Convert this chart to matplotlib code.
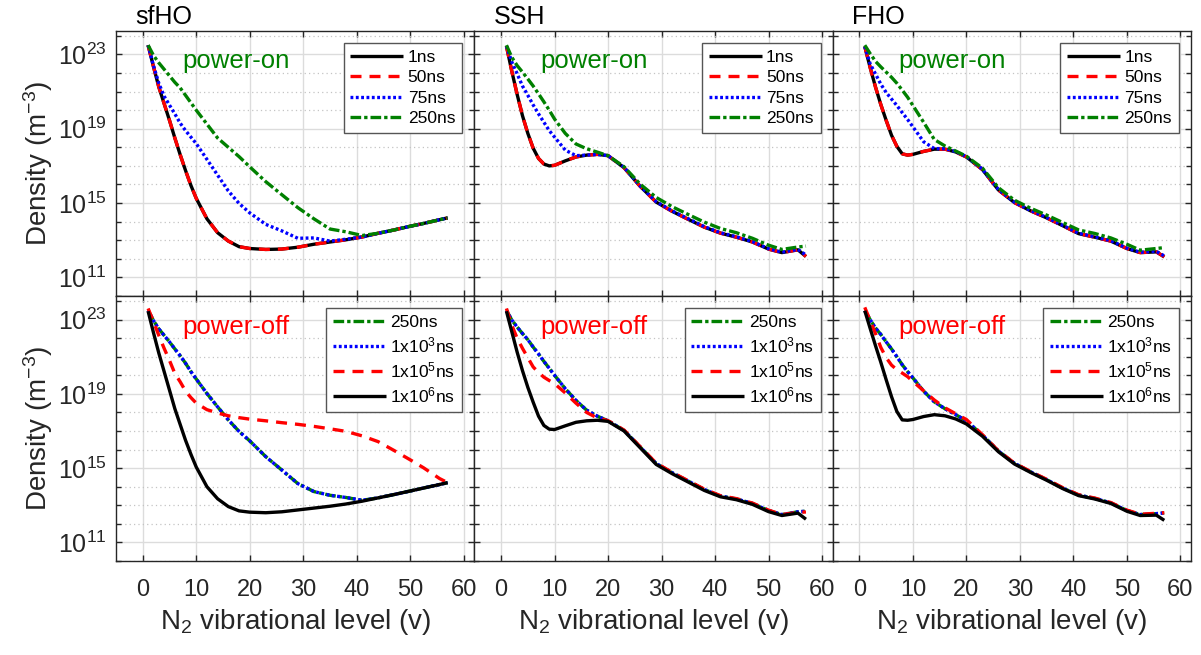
import numpy as np
import matplotlib
matplotlib.use('Agg')
import matplotlib.pyplot as plt
from matplotlib.ticker import FixedLocator, NullLocator, NullFormatter

plt.rcParams['font.family'] = ['Liberation Sans', 'DejaVu Sans']
plt.rcParams['mathtext.fontset'] = 'custom'
plt.rcParams['mathtext.rm'] = 'Liberation Sans'
plt.rcParams['mathtext.it'] = 'Liberation Sans:italic'
plt.rcParams['mathtext.bf'] = 'Liberation Sans:bold'
plt.rcParams['mathtext.default'] = 'regular'

v = [1, 2, 3, 4, 5, 6, 7, 8, 9, 10, 12, 14, 16, 18, 20, 23, 26, 29, 32, 35,
     38, 41, 44, 47, 50, 52.5, 55.5, 57]

# log10 of density (m^-3)
# sfHO, power-on
sfho_on_1ns = [23.5, 22.35, 21.25, 20.35, 19.45, 18.5, 17.6, 16.75, 15.95, 15.25, 14.15, 13.4, 12.95, 12.65,
               12.55, 12.5, 12.52, 12.62, 12.78, 12.9, 13.02, 13.17, 13.37, 13.55, 13.75, 13.9, 14.1, 14.2]
sfho_on_50ns = sfho_on_1ns  # lies on top of 1ns
sfho_on_75ns = [23.5, 22.4, 21.45, 20.75, 20.27, 19.8, 19.3, 18.9, 18.55, 18.2, 17.35, 16.5, 15.65, 14.98,
                14.47, 13.85, 13.5, 13.1, 13.12, 12.95, 13.05, 13.17, 13.37, 13.55, 13.75, 13.9, 14.1, 14.2]
sfho_on_250ns = [23.5, 22.95, 22.55, 22.2, 21.85, 21.5, 21.2, 20.8, 20.4, 20.0, 19.25, 18.5, 18.0, 17.5,
                 16.95, 16.15, 15.45, 14.75, 14.15, 13.6, 13.45, 13.25, 13.37, 13.55, 13.75, 13.9, 14.1, 14.2]
# sfHO, power-off
sfho_off_250ns = [23.5, 22.95, 22.5, 22.15, 21.8, 21.42, 21.05, 20.65, 20.2, 19.8, 19.02, 18.3, 17.6, 16.98,
                  16.47, 15.62, 14.9, 14.17, 13.74, 13.54, 13.42, 13.27, 13.4, 13.58, 13.77, 13.93, 14.12, 14.22]
sfho_off_1e3ns = sfho_off_250ns
sfho_off_1e5ns = [23.6, 22.9, 22.15, 21.45, 20.8, 20.1, 19.65, 19.15, 18.8, 18.5, 18.15, 17.97, 17.82, 17.72,
                  17.64, 17.55, 17.45, 17.36, 17.25, 17.12, 16.98, 16.74, 16.43, 15.95, 15.45, 15.02, 14.44, 14.22]
sfho_off_1e6ns = [23.45, 22.3, 21.2, 20.2, 19.2, 18.2, 17.35, 16.5, 15.75, 15.06, 14.0, 13.35, 12.93, 12.7,
                  12.63, 12.6, 12.65, 12.75, 12.85, 12.95, 13.07, 13.22, 13.4, 13.58, 13.77, 13.93, 14.12, 14.22]

# SSH, power-on
ssh_on_1ns = [23.45, 22.1, 20.85, 19.7, 18.75, 17.95, 17.4, 17.1, 17.0, 17.03, 17.27, 17.48, 17.58, 17.62,
              17.55, 16.9, 15.9, 15.05, 14.55, 14.12, 13.7, 13.38, 13.16, 12.9, 12.52, 12.33, 12.48, 12.12]
ssh_on_50ns = ssh_on_1ns
ssh_on_75ns = [23.45, 22.6, 21.96, 21.3, 20.8, 20.28, 19.8, 19.35, 18.9, 18.55, 17.85, 17.55, 17.58, 17.62,
               17.55, 16.92, 15.92, 15.07, 14.57, 14.15, 13.73, 13.4, 13.18, 12.92, 12.54, 12.35, 12.5, 12.2]
ssh_on_250ns = [23.5, 22.85, 22.4, 22.05, 21.68, 21.3, 20.88, 20.45, 20.0, 19.52, 18.75, 18.18, 17.92, 17.74,
                17.55, 16.95, 16.02, 15.3, 14.8, 14.38, 13.97, 13.63, 13.4, 13.1, 12.73, 12.5, 12.63, 12.68]
# SSH, power-off
ssh_off_250ns = [23.5, 22.98, 22.6, 22.25, 21.92, 21.52, 21.15, 20.75, 20.38, 20.0, 19.28, 18.65, 18.12, 17.8,
                 17.55, 17.03, 16.14, 15.25, 14.75, 14.3, 13.85, 13.5, 13.34, 13.1, 12.72, 12.5, 12.65, 12.68]
ssh_off_1e3ns = ssh_off_250ns
ssh_off_1e5ns = [23.6, 22.7, 22.0, 21.45, 20.95, 20.45, 20.15, 19.9, 19.72, 19.55, 19.05, 18.5, 18.0, 17.7,
                 17.56, 17.05, 16.16, 15.27, 14.77, 14.32, 13.87, 13.52, 13.36, 13.12, 12.74, 12.5, 12.62, 12.64]
ssh_off_1e6ns = [23.45, 22.35, 21.25, 20.25, 19.35, 18.55, 17.8, 17.3, 17.1, 17.08, 17.28, 17.47, 17.55, 17.58,
                 17.52, 17.0, 16.1, 15.2, 14.7, 14.25, 13.8, 13.46, 13.3, 13.05, 12.66, 12.45, 12.58, 12.25]

# FHO, power-on
fho_on_1ns = [23.43, 22.3, 21.25, 20.3, 19.45, 18.65, 18.05, 17.65, 17.58, 17.62, 17.78, 17.9, 17.9, 17.75,
              17.48, 16.8, 15.7, 15.02, 14.58, 14.2, 13.78, 13.35, 13.16, 12.95, 12.55, 12.33, 12.37, 12.1]
fho_on_50ns = fho_on_1ns
fho_on_75ns = [23.43, 22.5, 21.95, 21.4, 20.95, 20.6, 20.25, 19.87, 19.5, 19.1, 18.3, 17.93, 17.93, 17.77,
               17.5, 16.82, 15.72, 15.04, 14.6, 14.22, 13.8, 13.37, 13.18, 12.97, 12.57, 12.35, 12.4, 12.15]
fho_on_250ns = [23.5, 23.05, 22.63, 22.33, 22.05, 21.77, 21.45, 21.08, 20.7, 20.25, 19.35, 18.42, 18.07, 17.8,
                17.52, 16.88, 15.82, 15.15, 14.72, 14.35, 13.95, 13.55, 13.36, 13.12, 12.78, 12.46, 12.55, 12.6]
# FHO, power-off
fho_off_250ns = [23.48, 23.0, 22.55, 22.2, 21.8, 21.42, 21.0, 20.57, 20.2, 19.86, 19.15, 18.57, 18.2, 17.88,
                 17.55, 16.78, 15.92, 15.26, 14.8, 14.38, 13.93, 13.55, 13.37, 13.13, 12.72, 12.5, 12.55, 12.59]
fho_off_1e3ns = fho_off_250ns
fho_off_1e5ns = [23.66, 22.95, 22.25, 21.5, 20.95, 20.55, 20.3, 20.12, 19.93, 19.67, 19.17, 18.67, 18.25, 17.93,
                 17.62, 16.8, 15.93, 15.27, 14.82, 14.4, 13.95, 13.57, 13.39, 13.15, 12.74, 12.52, 12.57, 12.6]
fho_off_1e6ns = [23.48, 22.53, 21.6, 20.7, 19.76, 18.85, 18.05, 17.6, 17.58, 17.62, 17.78, 17.88, 17.82, 17.65,
                 17.38, 16.72, 15.88, 15.22, 14.77, 14.35, 13.9, 13.52, 13.34, 13.1, 12.68, 12.45, 12.47, 12.19]

models = ['sfHO', 'SSH', 'FHO']
on_labels = ['1ns', '50ns', '75ns', '250ns']
off_labels = ['250ns', r'1x10$^{3}$ns', r'1x10$^{5}$ns', r'1x10$^{6}$ns']
on_data = [[sfho_on_1ns, sfho_on_50ns, sfho_on_75ns, sfho_on_250ns],
           [ssh_on_1ns, ssh_on_50ns, ssh_on_75ns, ssh_on_250ns],
           [fho_on_1ns, fho_on_50ns, fho_on_75ns, fho_on_250ns]]
off_data = [[sfho_off_250ns, sfho_off_1e3ns, sfho_off_1e5ns, sfho_off_1e6ns],
            [ssh_off_250ns, ssh_off_1e3ns, ssh_off_1e5ns, ssh_off_1e6ns],
            [fho_off_250ns, fho_off_1e3ns, fho_off_1e5ns, fho_off_1e6ns]]

lw = 2.4
sty = {'k': dict(color='black', ls='-'),
       'r': dict(color='#ff0000', dashes=(3.3, 2.4)),
       'b': dict(color='#0000ff', dashes=(0.85, 0.75)),
       'g': dict(color='#008000', dashes=(3.2, 0.9, 1.0, 0.9))}
on_sty = ['k', 'r', 'b', 'g']
off_sty = ['g', 'b', 'r', 'k']

dark = '#262626'
fig, axes = plt.subplots(2, 3, figsize=(12.01, 6.55), dpi=100, sharex=True, sharey=True)
fig.subplots_adjust(left=0.0966, right=0.9917, top=0.9531, bottom=0.1435, wspace=0, hspace=0)

x = np.array(v)
for j in range(3):
    for i, (data, labels, styles) in enumerate([(on_data[j], on_labels, on_sty),
                                                (off_data[j], off_labels, off_sty)]):
        ax = axes[i, j]
        for y, lab, s in zip(data, labels, styles):
            ax.plot(x, 10.0 ** np.array(y), lw=lw, label=lab, solid_capstyle='butt',
                    dash_capstyle='butt', solid_joinstyle='round', **sty[s])
        ax.set_yscale('log')
        ax.set_xlim(-5, 62)
        ax.set_ylim(1e10, 1.9e24)
        ax.set_xticks([0, 10, 20, 30, 40, 50, 60])
        ax.xaxis.set_minor_locator(NullLocator())
        ax.yaxis.set_major_locator(FixedLocator([1e11, 1e15, 1e19, 1e23]))
        ax.yaxis.set_minor_locator(FixedLocator([10.0 ** k for k in range(10, 25) if k not in (11, 15, 19, 23)]))
        ax.yaxis.set_minor_formatter(NullFormatter())
        ax.set_yticklabels([r'$10^{11}$', r'$10^{15}$', r'$10^{19}$', r'$10^{23}$'])
        ax.grid(True, which='major', color='#dcdcdc', lw=1.0, ls='-')
        ax.yaxis.grid(True, which='minor', color='#c4c4c4', lw=0.9, ls=(0, (1, 2.5)))
        ax.set_axisbelow(True)
        ax.tick_params(which='both', direction='in', top=True, right=True, color=dark,
                       labelcolor=dark)
        ax.tick_params(which='major', length=4.5, width=1)
        ax.tick_params(which='minor', length=3.5, width=1)
        ax.tick_params(axis='x', labelsize=17, pad=13)
        ax.tick_params(axis='y', labelsize=18, pad=7)
        for sp in ax.spines.values():
            sp.set_color(dark)
            sp.set_linewidth(1.0)
        leg = ax.legend(loc='upper right', fontsize=12.5, handlelength=3.05, handletextpad=0.25,
                        borderpad=0.4, labelspacing=0.3, borderaxespad=0.7, fancybox=False,
                        framealpha=1, edgecolor='#555555')
        leg.get_frame().set_linewidth(1.0)
        if i == 0:
            ax.text(0.334, 0.887, 'power-on', color='#008000', fontsize=18.5,
                    ha='center', va='center', transform=ax.transAxes)
            ax.text(0.053, 1.006, models[j], color='black', fontsize=18,
                    ha='left', va='bottom', transform=ax.transAxes)
        else:
            ax.text(0.334, 0.884, 'power-off', color='#ff0000', fontsize=18.5,
                    ha='center', va='center', transform=ax.transAxes)
            ax.set_xlabel(r'N$_2$ vibrational level (v)', fontsize=20, color=dark, labelpad=4)
        if j == 0:
            ax.set_ylabel(r'Density (m$^{-3}$)', fontsize=20, color=dark, labelpad=2)

fig.savefig('out.png', dpi=100)
